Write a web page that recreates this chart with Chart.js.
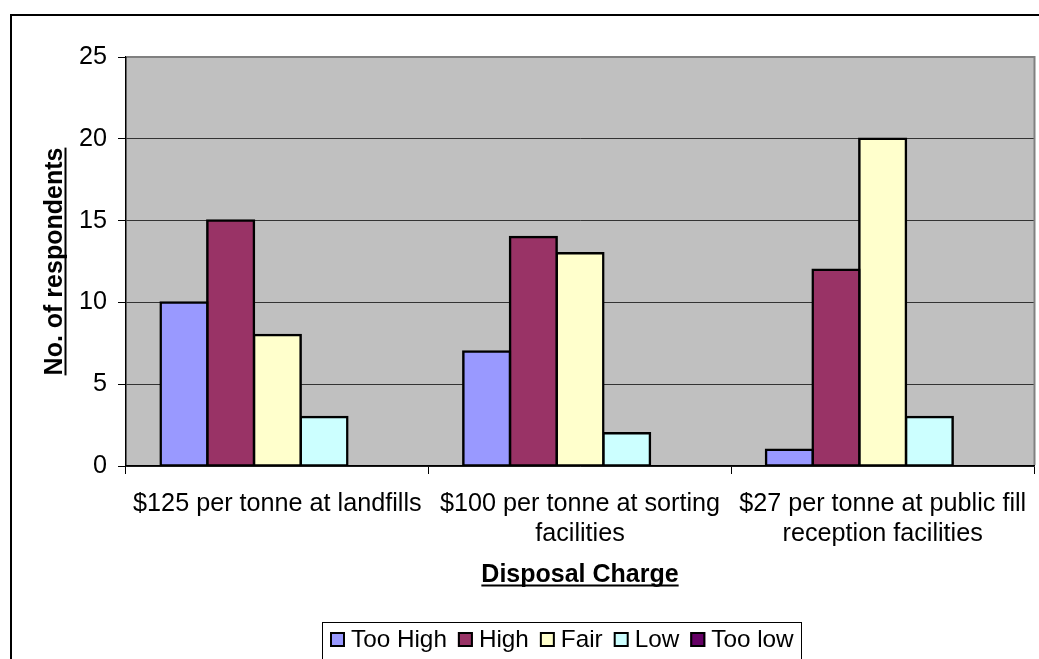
<!DOCTYPE html>
<html>
<head>
<meta charset="utf-8">
<title>Disposal Charge</title>
<script src="https://cdn.jsdelivr.net/npm/chart.js@4/dist/chart.umd.min.js"></script>
<style>
  html, body { margin: 0; padding: 0; background: #fff; }
  #wrap { width: 1039px; height: 659px; position: relative; }
</style>
</head>
<body>
<div id="wrap"><canvas id="c" width="1039" height="659"></canvas></div>
<script>
// Categories (multi-line labels as arrays)
const categories = [
  ['$125 per tonne at landfills'],
  ['$100 per tonne at sorting', 'facilities'],
  ['$27 per tonne at public fill', 'reception facilities']
];
const seriesNames = ['Too High', 'High', 'Fair', 'Low', 'Too low'];
const tooHigh = [10, 7, 1];
const high    = [15, 14, 12];
const fair    = [8, 13, 20];
const low     = [3, 2, 3];
const tooLow  = [0, 0, 0];
const yTicks  = [0, 5, 10, 15, 20, 25];
const xTitle  = 'Disposal Charge';
const yTitle  = 'No. of respondents';

const seriesColors = ['#9999FF', '#993366', '#FFFFCC', '#CCFFFF', '#660066'];
const seriesValues = [tooHigh, high, fair, low, tooLow];
const FONT = 'Liberation Sans, Arial, Helvetica, sans-serif';
const TICK_SIZE = 25.2;
const TITLE_SIZE = 25;
const LEGEND_SIZE = 24.3;
const BAR_BORDER = 2.5;

// Frame, plot background, underlined axis titles and boxed legend
const decor = {
  id: 'decor',
  beforeDraw(chart) {
    const { ctx, chartArea: a } = chart;
    ctx.save();
    ctx.fillStyle = '#fff';
    ctx.fillRect(0, 0, chart.width, chart.height);
    ctx.strokeStyle = '#000';
    ctx.lineWidth = 2;
    ctx.beginPath();
    ctx.moveTo(11, chart.height + 5);
    ctx.lineTo(11, 15);
    ctx.lineTo(chart.width + 5, 15);
    ctx.stroke();
    ctx.fillStyle = '#C0C0C0';
    ctx.fillRect(a.left, a.top, a.right - a.left, a.bottom - a.top);
    ctx.restore();
  },
  afterDraw(chart) {
    const { ctx, chartArea: a } = chart;
    ctx.save();

    // top and right edges of the plot area
    ctx.strokeStyle = '#808080';
    ctx.lineWidth = 2;
    ctx.beginPath();
    ctx.moveTo(a.left + 1, a.top);
    ctx.lineTo(a.right + 0.5, a.top);
    ctx.lineTo(a.right + 0.5, a.bottom - 1);
    ctx.stroke();

    ctx.fillStyle = '#000';
    ctx.font = 'bold ' + TITLE_SIZE + 'px ' + FONT;
    ctx.textBaseline = 'alphabetic';
    ctx.textAlign = 'center';

    // x-axis title
    const cx = (a.left + a.right) / 2;
    const wx = ctx.measureText(xTitle).width;
    ctx.fillText(xTitle, cx, 582);
    ctx.fillRect(cx - wx / 2, 584.5, wx, 2);

    // y-axis title
    const cy = (a.top + a.bottom) / 2;
    const wy = ctx.measureText(yTitle).width;
    ctx.save();
    ctx.translate(62, cy);
    ctx.rotate(-Math.PI / 2);
    ctx.fillText(yTitle, 0, 0);
    ctx.fillRect(-wy / 2, 2.5, wy, 2);
    ctx.restore();

    // legend
    ctx.font = LEGEND_SIZE + 'px ' + FONT;
    ctx.textAlign = 'left';
    ctx.textBaseline = 'middle';
    ctx.strokeStyle = '#000';
    ctx.lineWidth = 1;
    ctx.strokeRect(322.5, 622.5, 479, 80);
    let x = 330;
    chart.data.datasets.forEach(ds => {
      ctx.fillStyle = ds.backgroundColor;
      ctx.fillRect(x, 632, 15, 15);
      ctx.lineWidth = 2;
      ctx.strokeStyle = '#000';
      ctx.strokeRect(x + 1, 633, 13, 13);
      ctx.fillStyle = '#000';
      ctx.fillText(ds.label, x + 21, 640);
      x += 21 + ctx.measureText(ds.label).width + 11;
    });
    ctx.restore();
  }
};

new Chart(document.getElementById('c'), {
  type: 'bar',
  data: {
    labels: categories,
    datasets: seriesNames.map((name, i) => ({
      label: name,
      data: seriesValues[i],
      backgroundColor: seriesColors[i],
      borderColor: '#000',
      borderWidth: BAR_BORDER,
      borderSkipped: false,
      // centre the outline on the bar edges so neighbouring bars share one line
      inflateAmount: ctx => (ctx.raw ? BAR_BORDER / 2 : 0),
      categoryPercentage: 0.771,
      barPercentage: 1.0
    }))
  },
  options: {
    responsive: false,
    devicePixelRatio: 1,
    animation: false,
    layout: { padding: { top: 57, right: 5, left: 0, bottom: 0 } },
    plugins: {
      legend: { display: false },
      title: { display: false },
      tooltip: { enabled: false }
    },
    scales: {
      x: {
        grid: {
          drawOnChartArea: false,
          drawTicks: true,
          offset: true,
          tickLength: 8,
          color: '#000',
          lineWidth: 1
        },
        border: { display: true, color: '#000', width: 1.5 },
        ticks: {
          color: '#000',
          font: { family: FONT, size: TICK_SIZE, lineHeight: '30px' },
          padding: 15.5,
          maxRotation: 0,
          minRotation: 0,
          autoSkip: false
        },
        afterFit(scale) {
          scale.height = 193;
          scale.paddingLeft = 0;
          scale.paddingRight = 0;
        }
      },
      y: {
        min: 0,
        max: 25,
        afterBuildTicks(scale) { scale.ticks = yTicks.map(v => ({ value: v })); },
        grid: {
          color: '#333',
          lineWidth: 1,
          drawTicks: true,
          tickLength: 8,
          tickColor: '#000'
        },
        border: { display: true, color: '#000', width: 1.5 },
        ticks: {
          color: '#000',
          font: { family: FONT, size: TICK_SIZE },
          padding: 11
        },
        afterFit(scale) { scale.width = 126; }
      }
    }
  },
  plugins: [decor]
});
</script>
</body>
</html>
